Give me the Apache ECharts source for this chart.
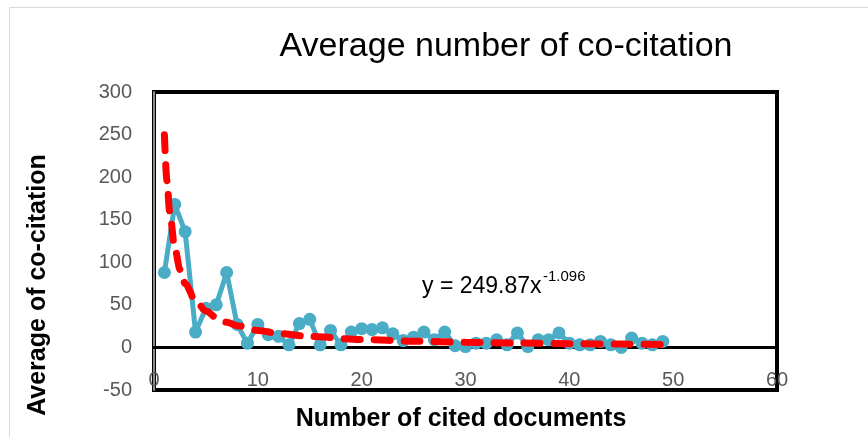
<!DOCTYPE html>
<html>
<head>
<meta charset="utf-8">
<script src="https://cdn.jsdelivr.net/npm/echarts@6/dist/echarts.min.js"></script>
<style>
html,body{margin:0;padding:0;background:#fff;}
#c{width:868px;height:437px;}
</style>
</head>
<body>
<div id="c"></div>
<script>
// Observed data: number of cited documents (x) vs average co-citation (y)
var citedDocs = [1,2,3,4,5,6,7,8,9,10,11,12,13,14,15,16,17,18,19,20,21,22,23,24,25,26,27,28,29,30,31,32,33,34,35,36,37,38,39,40,41,42,43,44,45,46,47,48,49];
var avgCoCitation = [88,168,136,18,46,50,88,27,5,27,15,13,3,28,33,3,20,3,18,22,21,23,16,8,12,18,9,18,2,1,5,5,9,3,17,1,9,9,17,5,3,3,7,3,0,11,5,3,7];
// Power trendline y = 249.87x^-1.096
var trendX = [1,1.25,1.5,2,2.5,3,4,5,6,7,8,10,12,15,20,25,30,35,40,45,49];
var trendY = [249.9,195.7,160.2,116.9,91.5,74.9,54.7,42.8,35.1,29.6,25.6,20.0,16.4,12.8,9.4,7.3,6.0,5.1,4.4,3.9,3.5];
var xTicks = {min:0, max:60, interval:10};
var yTicks = {min:-50, max:300, interval:50};
var chartTitle = 'Average number of co-citation';
var xTitle = 'Number of cited documents';
var yTitle = 'Average of co-citation';
var eqMain = 'y = 249.87x';
var eqSup = '-1.096';

var obs = citedDocs.map(function(x,i){return [x, avgCoCitation[i]];});
var trend = trendX.map(function(x,i){return [x, trendY[i]];});

var chart = echarts.init(document.getElementById('c'), null, {renderer:'canvas'});
var font = 'Liberation Sans, Arial, sans-serif';
chart.setOption({
  animation:false,
  backgroundColor:'#fff',
  grid:{left:154, right:91, top:92, bottom:47, show:true, borderColor:'#000', borderWidth:4, backgroundColor:'transparent'},
  xAxis:{type:'value', min:xTicks.min, max:xTicks.max, interval:xTicks.interval,
    axisLine:{show:true, onZero:true, lineStyle:{color:'#000', width:3}},
    axisTick:{show:false}, splitLine:{show:false},
    axisLabel:{color:'#595959', fontSize:20, fontFamily:font, margin:-20}},
  yAxis:{type:'value', min:yTicks.min, max:yTicks.max, interval:yTicks.interval,
    axisLine:{show:true, lineStyle:{color:'#8c8c8c', width:2}},
    axisTick:{show:false}, splitLine:{show:false},
    axisLabel:{color:'#595959', fontSize:20, fontFamily:font, margin:22}},
  series:[
    {type:'line', data:obs, z:2, color:'#4BACC6',
     lineStyle:{color:'#4BACC6', width:5}, symbol:'circle', symbolSize:13,
     itemStyle:{color:'#4BACC6'}},
    {type:'line', data:trend, z:3, smooth:0.3, smoothMonotone:'x', symbol:'none',
     lineStyle:{color:'#FF0000', width:7, type:[16,14], cap:'round'}}
  ],
  graphic:[
    {type:'rect', shape:{x:9.5, y:7.5, width:880, height:460}, style:{fill:'none', stroke:'#d9d9d9', lineWidth:1}, z:-10},
    {type:'text', x:506, y:47, style:{text:chartTitle, fill:'#000', font:'34px '+font, textAlign:'center', textVerticalAlign:'middle'}},
    {type:'text', x:461, y:419, style:{text:xTitle, fill:'#000', font:'bold 25px '+font, textAlign:'center', textVerticalAlign:'middle'}},
    {type:'text', x:38, y:285, rotation:Math.PI/2, style:{text:yTitle, fill:'#000', font:'bold 25px '+font, textAlign:'center', textVerticalAlign:'middle'}},
    {type:'text', x:422, y:287, style:{text:eqMain, fill:'#000', font:'23px '+font, textAlign:'left', textVerticalAlign:'middle'}},
    {type:'text', x:543, y:277, style:{text:eqSup, fill:'#000', font:'15px '+font, textAlign:'left', textVerticalAlign:'middle'}}
  ]
});
</script>
</body>
</html>
